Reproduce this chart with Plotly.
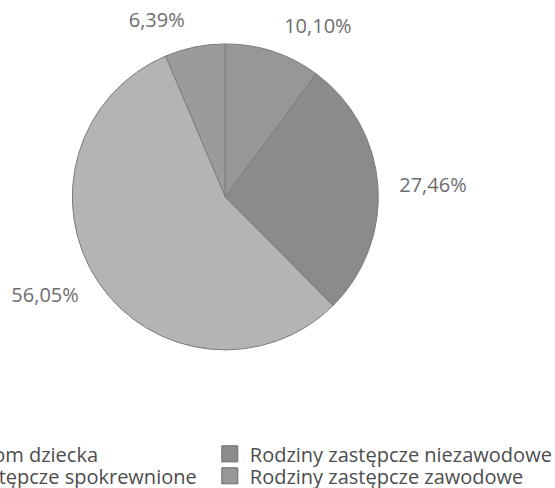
import plotly.graph_objects as go

# share of children by form of family foster care
labels = ['Rodzinny dom dziecka', 'Rodziny zastępcze spokrewnione',
          'Rodziny zastępcze niezawodowe', 'Rodziny zastępcze zawodowe']
values = [6.39, 56.05, 27.46, 10.10]
colors = ['#9b9b9b', '#b4b4b4', '#8b8b8b', '#979797']

fig = go.Figure()

fig.add_trace(go.Pie(labels=labels, values=values,
                     sort=False,
                     direction='counterclockwise',
                     rotation=-23,
                     marker=dict(colors=colors, line=dict(color='#7c7c7c', width=1)),
                     textinfo='none',
                     hoverinfo='label+percent',
                     showlegend=False,
                     domain=dict(x=[0.128, 0.684], y=[0.283, 0.91])))

# same slices on a slightly larger, transparent pie, only to push the
# outside percentage labels a bit away from the edge
fig.add_trace(go.Pie(labels=labels, values=values,
                     sort=False,
                     direction='counterclockwise',
                     rotation=-23,
                     marker=dict(colors=['rgba(0,0,0,0)'] * len(values),
                                 line=dict(width=0)),
                     texttemplate='%{value:.2f}%',
                     textposition='outside',
                     textfont=dict(family='Open Sans', size=20, color='#6e6e6e'),
                     hoverinfo='skip',
                     showlegend=False,
                     domain=dict(x=[0.1027, 0.708], y=[0.252, 0.9406])))

# legend in two columns, filled top to bottom: one legend box per entry
legend_names = ['legend', 'legend2', 'legend3', 'legend4']
for i in range(len(labels)):
    fig.add_trace(go.Scatter(x=[None], y=[None], mode='markers',
                             marker=dict(symbol='square', size=18, color=colors[i],
                                         line=dict(color='#6a6a6a', width=1)),
                             name=labels[i],
                             legend=legend_names[i]))

legend_style = dict(orientation='v', yanchor='middle',
                    font=dict(family='Open Sans', size=20, color='#4d4d4d'),
                    bgcolor='rgba(0,0,0,0)')

fig.update_layout(width=555, height=488,
                  separators=', ',
                  margin=dict(l=0, r=0, t=0, b=0, autoexpand=False),
                  paper_bgcolor='white', plot_bgcolor='white',
                  xaxis=dict(visible=False), yaxis=dict(visible=False),
                  legend=dict(legend_style, x=-0.27, y=0.07),
                  legend2=dict(legend_style, x=-0.27, y=0.025),
                  legend3=dict(legend_style, x=0.378, y=0.07),
                  legend4=dict(legend_style, x=0.378, y=0.025))

fig.write_html("out.html", config={'displayModeBar': False},
               post_script="document.body.style.margin = '0';")
